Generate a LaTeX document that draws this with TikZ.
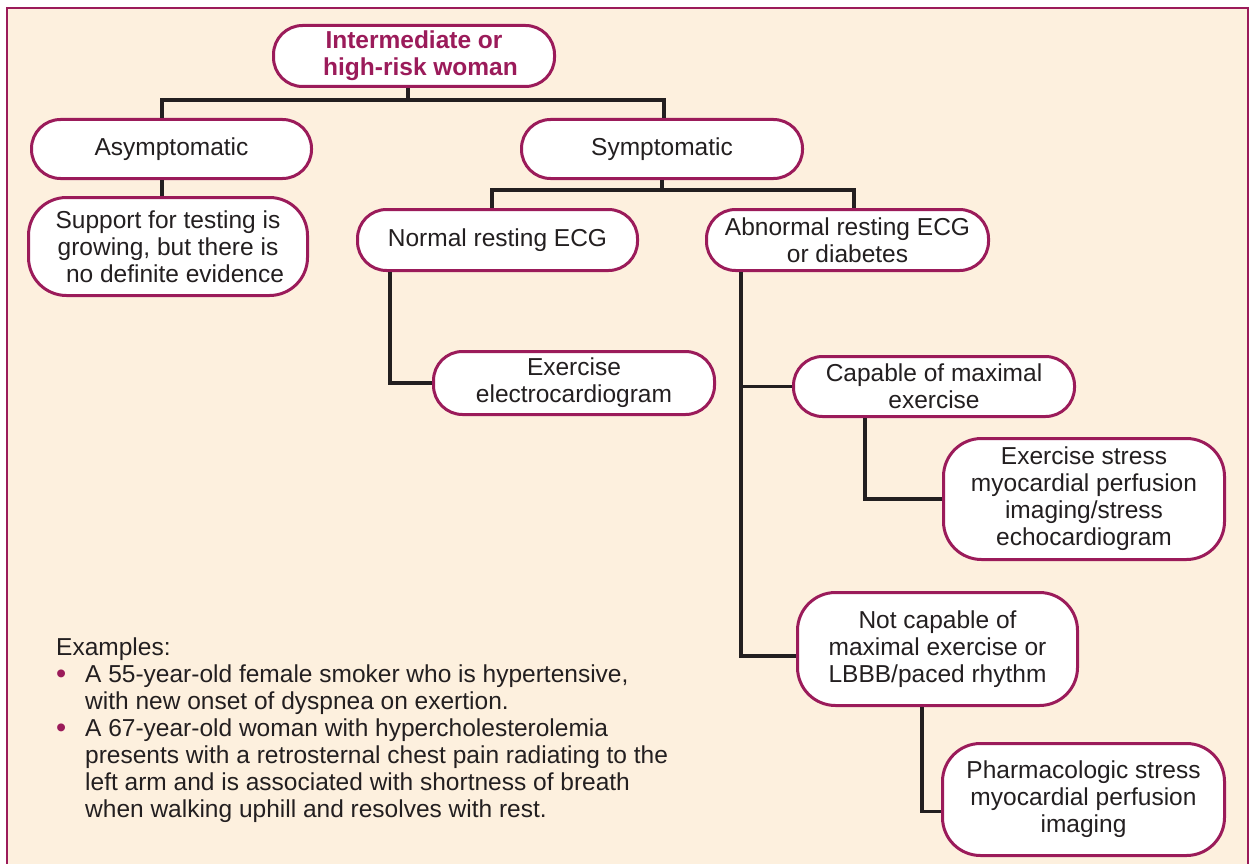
\documentclass[tikz,border=0pt]{standalone}
\usepackage{fontspec}
\setmainfont{Liberation Sans}
\definecolor{mag}{HTML}{9B1B5A}
\definecolor{bg}{HTML}{FDF0DE}
\definecolor{txt}{HTML}{231F20}
\newcommand{\mainsz}{\fontsize{24.5}{27}\selectfont}
\newcommand{\bul}{\makebox[29pt][l]{\smash{\raisebox{-1pt}{\textcolor{mag}{\fontsize{29}{27}\selectfont •}}}}}
\begin{document}
\begin{tikzpicture}[x=1pt,y=-1pt,
  box/.style={draw=mag, line width=3pt, fill=white, rounded corners=29pt,
    align=center, text=txt, inner sep=0pt, font=\mainsz},
  tallbox/.style={box, rounded corners=38pt},
  conn/.style={draw=txt, line width=3.2pt}]
\useasboundingbox (0,0) rectangle (1255,864);
\fill[white] (0,0) rectangle (1255,864);
\draw[mag, line width=1.2pt, fill=bg] (7,8) rectangle (1248,880);

\coordinate (j1) at (408,100);
\coordinate (j2) at (662,190);
\coordinate (a1) at (741,272);

\node[box, minimum width=281pt, minimum height=61pt, font=\mainsz\bfseries, text=mag] (top) at (414,56) {Intermediate or\\ \hspace*{13pt}high-risk woman};
\node[box, minimum width=280pt, minimum height=59pt] (asym) at (171.5,149) {Asymptomatic};
\node[box, minimum width=281pt, minimum height=59pt] (symp) at (662,149) {Symptomatic};
\node[tallbox, minimum width=279pt, minimum height=98pt] (support) at (168,246.5) {Support for testing is\\ growing, but there is\\ \hspace*{14pt}no definite evidence};
\node[box, minimum width=280pt, minimum height=61pt] (normal) at (497.5,240) {Normal resting ECG};
\node[box, minimum width=282pt, minimum height=61pt] (abn) at (847.5,240) {Abnormal resting ECG\\ or diabetes};
\node[box, minimum width=281pt, minimum height=63pt] (exg) at (574,383) {Exercise\\ electrocardiogram};
\node[box, minimum width=281pt, minimum height=60pt] (cap) at (934,386.5) {Capable of maximal\\ exercise};
\node[tallbox, minimum width=281pt, minimum height=121pt] (exstress) at (1084,499) {Exercise stress\\ myocardial perfusion\\ imaging/stress\\ echocardiogram};
\node[tallbox, minimum width=280pt, minimum height=113pt] (notcap) at (937.5,649) {Not capable of\\ maximal exercise or\\ LBBB/paced rhythm};
\node[tallbox, minimum width=282pt, minimum height=112pt] (pharm) at (1083.5,799.5) {Pharmacologic stress\\ myocardial perfusion\\ imaging};

\draw[conn] ([xshift=-6pt]top.south) -- (j1);
\draw[conn] ([xshift=-9.5pt]asym.north) |- (j1) -| ([xshift=2pt]symp.north);
\draw[conn] ([xshift=-9.5pt]asym.south) -- ([xshift=-6pt]support.north);
\draw[conn] (symp.south) -- (j2);
\draw[conn] ([xshift=-5.5pt]normal.north) |- (j2) -| ([xshift=6.5pt]abn.north);
\draw[conn] ([xshift=34pt]normal.south west) |- (exg.west);
\draw[conn] ([xshift=36pt]abn.south west) |- ([yshift=-7pt]notcap.west);
\draw[conn] (cap.west) -- (cap.west -| a1);
\draw[conn] ([xshift=73pt]cap.south west) |- (exstress.west);
\draw[conn] ([xshift=126pt]notcap.south west) |- ([yshift=-12pt]pharm.west);

\node[anchor=north west, inner sep=0pt, align=left, text=txt, font=\mainsz] (ex) at (56,638)
{Examples:\\
\bul A 55-year-old female smoker who is hypertensive,\\
\hspace*{29pt}with new onset of dyspnea on exertion.\\
\bul A 67-year-old woman with hypercholesterolemia\\
\hspace*{29pt}presents with a retrosternal chest pain radiating to the\\
\hspace*{29pt}left arm and is associated with shortness of breath\\
\hspace*{29pt}when walking uphill and resolves with rest.};
\end{tikzpicture}
\end{document}
